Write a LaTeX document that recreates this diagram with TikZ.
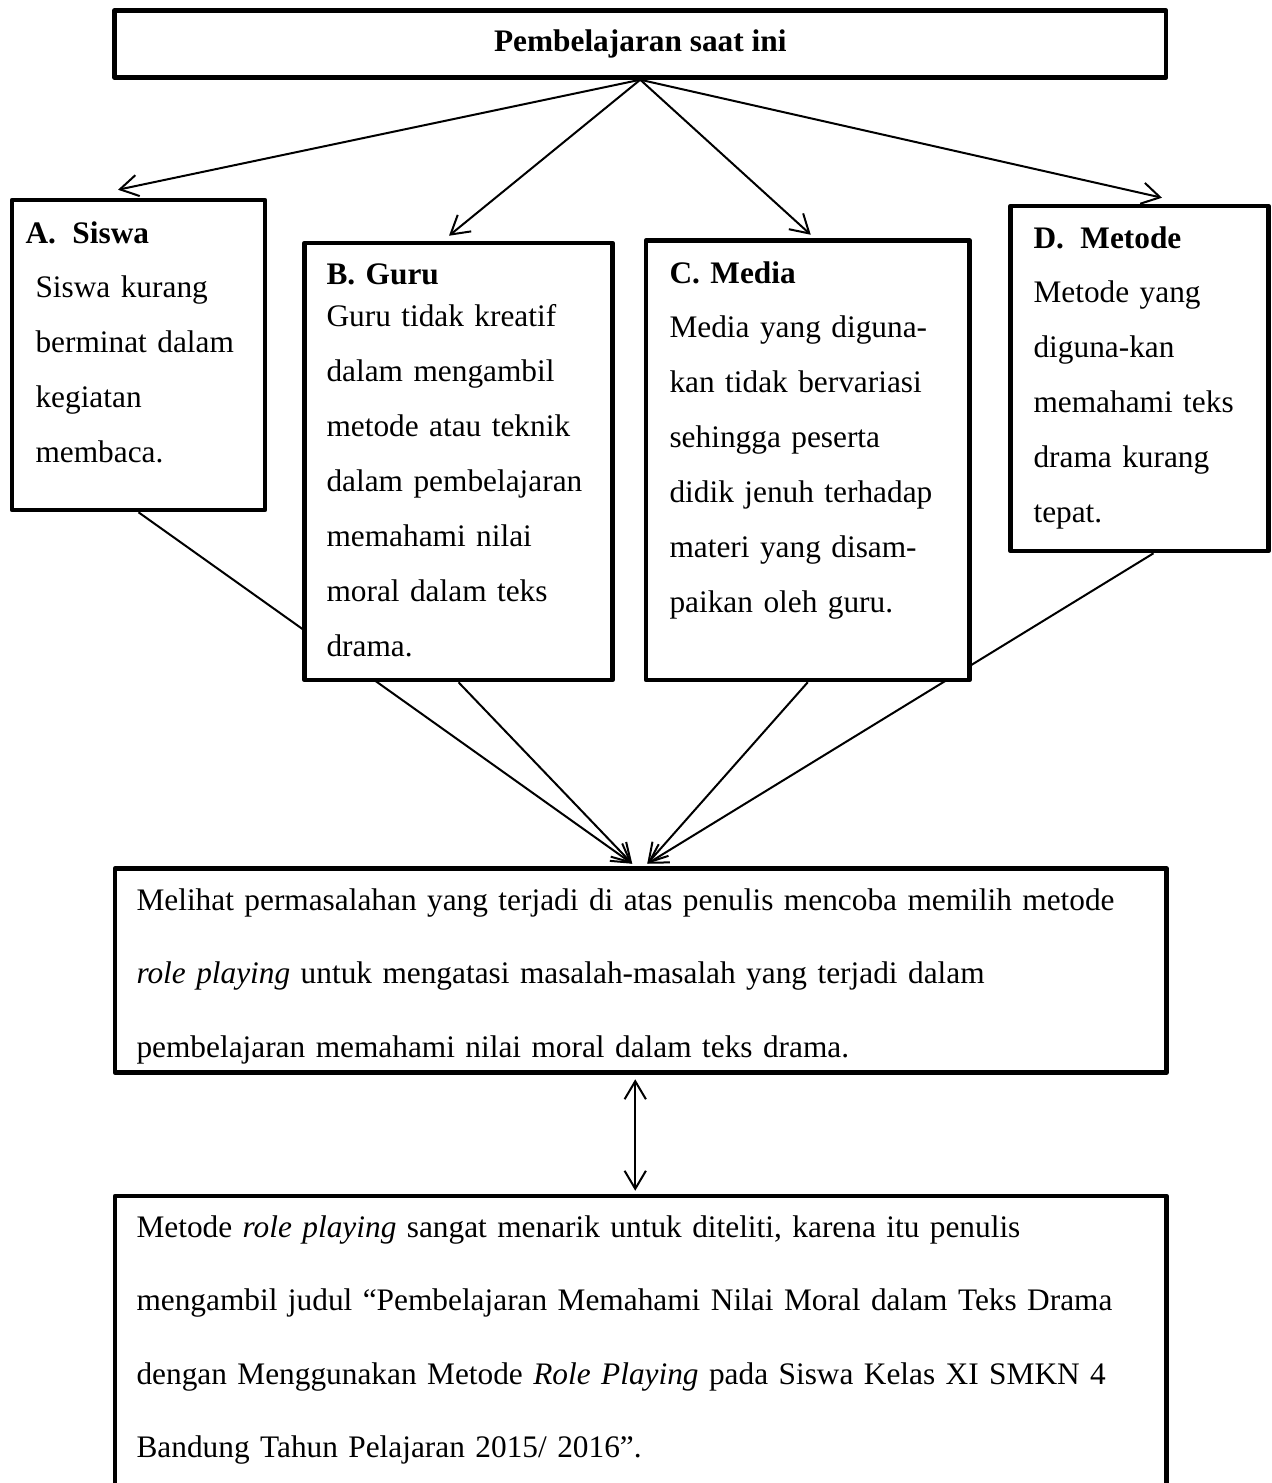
\documentclass[tikz,border=0pt]{standalone}
\usepackage{fontspec}
\setmainfont{Liberation Serif}
\usetikzlibrary{arrows.meta,calc,fit,backgrounds}

\begin{document}
\begin{tikzpicture}[
		x=0.375pt, y=0.375pt,
		font=\fontsize{11.75}{20.6}\selectfont,
		box/.style = {draw, line width=1.7pt, line join=round, fill=white, inner sep=0pt},
		txt/.style = {anchor=base west, inner sep=0pt, align=left, text width=#1},
		txt/.default = 120pt,
		wide/.style = {txt=420pt, font=\fontsize{11.75}{27.6}\selectfont},
		conn/.style = {line width=0.75pt},
		arr/.style = {conn, -{Straight Barb[length=6.75pt, width=8pt]}},
	]
	\useasboundingbox (0,0) rectangle (1272,-1483);
	\clip (0,0) rectangle (1272,-1483);
	% boxes
	\node[box, minimum width=394.3pt, minimum height=25.1pt] (top) at (640.25,-44) {\textbf{Pembelajaran saat ini}};
	\node[box, fit={(12,-200) (265,-510)}] (A) {};
	\node[box, fit={(304.5,-243) (612.5,-680)}] (B) {};
	\node[box, fit={(646,-240.5) (969.5,-680)}] (C) {};
	\node[box, fit={(1010.5,-206) (1268.5,-551)}] (D) {};
	\node[box, fit={(115,-868.5) (1166.5,-1072.5)}] (mid) {};
	\node[box, fit={(115,-1196) (1166.5,-1560)}] (bot) {};
	% texts
	\node[txt] (Atxt) at (35,-243) {\hspace*{-3.75pt}\makebox[17.6pt][l]{\textbf{A.}}\textbf{Siswa}\\
		Siswa kurang\\ berminat dalam\\ kegiatan\\ membaca.};
	\node[txt] (Btxt) at (326,-284) {\textbf{B. Guru}\\[-4.5pt]
		Guru tidak kreatif\\ dalam mengambil\\ metode atau teknik\\ dalam pembelajaran\\
		memahami nilai\\ moral dalam teks\\ drama.};
	\node[txt] (Ctxt) at (669,-283) {\textbf{C. Media}\\
		Media yang diguna-\\ kan tidak bervariasi\\ sehingga peserta\\ didik jenuh terhadap\\
		materi yang disam-\\ paikan oleh guru.};
	\node[txt] (Dtxt) at (1033,-248) {\makebox[17.6pt][l]{\textbf{D.}}\textbf{Metode}\\
		Metode yang\\ diguna-kan\\ memahami teks\\ drama kurang\\ tepat.};
	\node[wide] (midtxt) at (136,-910) {Melihat permasalahan yang terjadi di atas penulis mencoba memilih metode\\
		\textit{role playing} untuk mengatasi masalah-masalah yang terjadi dalam\\
		pembelajaran memahami nilai moral dalam teks drama.};
	\node[wide] (bottxt) at (136,-1237) {Metode \textit{role playing} sangat menarik untuk diteliti, karena itu penulis\\
		mengambil judul “Pembelajaran Memahami Nilai Moral dalam Teks Drama\\
		dengan Menggunakan Metode \textit{Role Playing} pada Siswa Kelas XI SMKN 4\\
		Bandung Tahun Pelajaran 2015/ 2016”.};
	% connectors
	\begin{scope}[on background layer]
		\draw[arr] (top.south) -- ($(A.north)+(-20.5,8)$);
		\draw[arr] (top.south) -- ($(B.north)+(-9.5,5)$);
		\draw[arr] (top.south) -- ($(C.north)+(3,3.5)$);
		\draw[arr] (top.south) -- ($(D.north)+(22.5,6)$);
		\draw[arr] (A.south) -- ($(mid.north)+(-8.5,2.5)$);
		\draw[arr] (B.south) -- ($(mid.north)+(-8.5,2.5)$);
		\draw[arr] (C.south) -- ($(mid.north)+(6.5,2.5)$);
		\draw[arr] ($(D.south)+(14,0)$) -- ($(mid.north)+(6.5,2.5)$);
		\draw[conn, {Straight Barb[length=6.75pt, width=8pt]}-{Straight Barb[length=6.75pt, width=8pt]}]
			($(mid.south)+(-5.5,-4.5)$) -- ($(bot.north)+(-5.5,3)$);
	\end{scope}
\end{tikzpicture}
\end{document}
